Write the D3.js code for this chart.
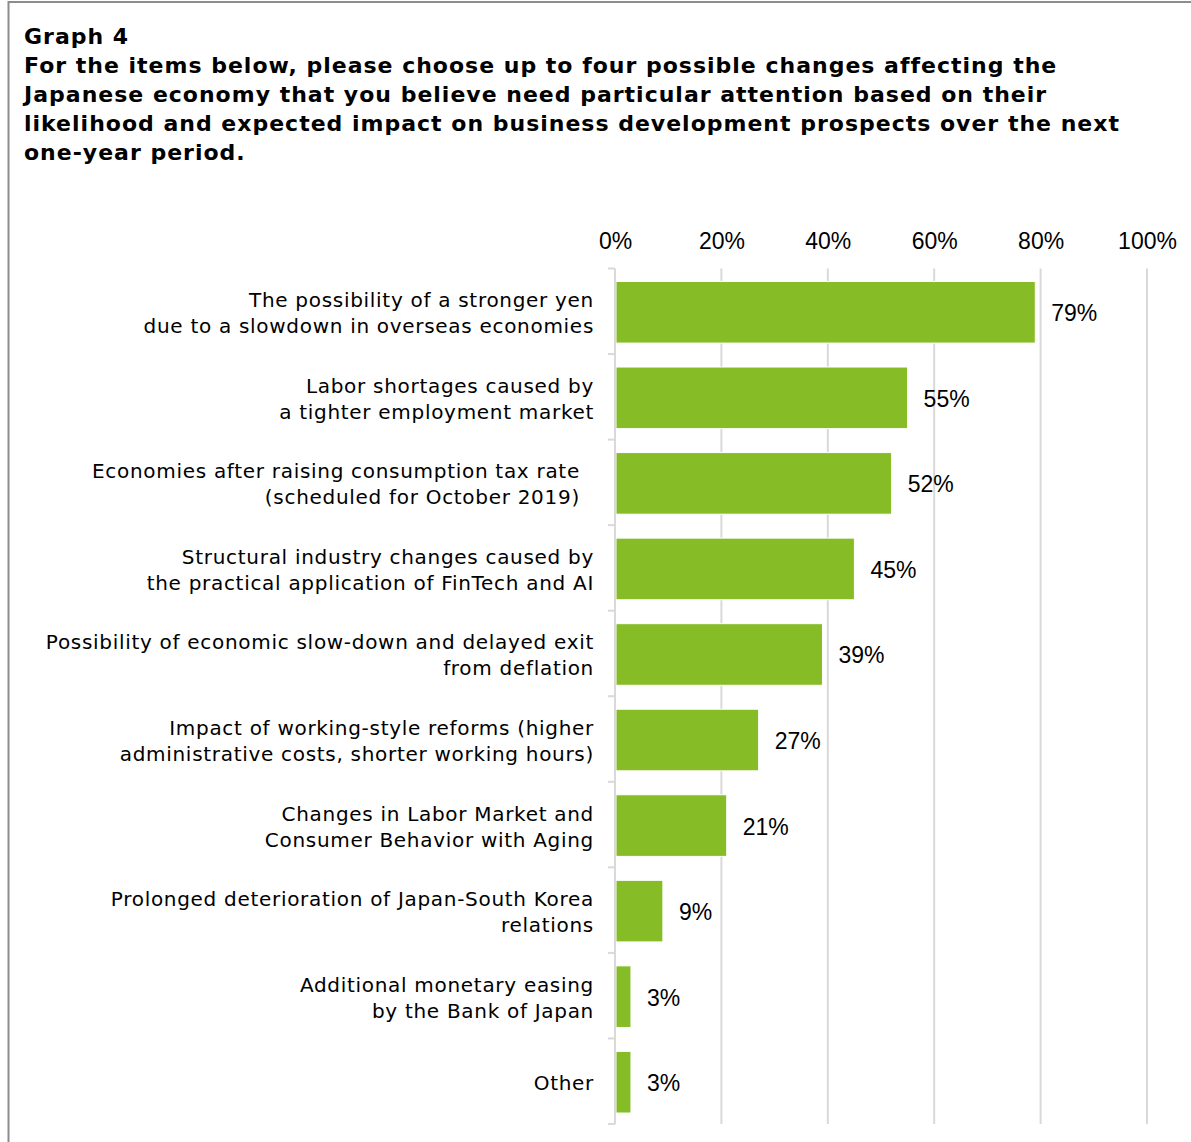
<!DOCTYPE html>
<html>
<head>
<meta charset="utf-8">
<script src="https://cdn.jsdelivr.net/npm/d3@7/dist/d3.min.js"></script>
<style>
  html, body { margin: 0; padding: 0; background: #fff; }
  svg { display: block; }
</style>
</head>
<body>
<svg id="chart" width="1191" height="1142"></svg>
<script>
// Survey results: share of respondents naming each change
const titleLines = [
  "Graph 4",
  "For the items below, please choose up to four possible changes affecting the",
  "Japanese economy that you believe need particular attention based on their",
  "likelihood and expected impact on business development prospects over the next",
  "one-year period."
];

const categories = [
  ["The possibility of a stronger yen", "due to a slowdown in overseas economies"],
  ["Labor shortages caused by", "a tighter employment market"],
  ["Economies after raising consumption tax rate\u00a0\u00a0", "(scheduled for October 2019)\u00a0\u00a0"],
  ["Structural industry changes caused by", "the practical application of FinTech and AI"],
  ["Possibility of economic slow-down and delayed exit", "from deflation"],
  ["Impact of working-style reforms (higher", "administrative costs, shorter working hours)"],
  ["Changes in Labor Market and", "Consumer Behavior with Aging"],
  ["Prolonged deterioration of Japan-South Korea", "relations"],
  ["Additional monetary easing", "by the Bank of Japan"],
  ["Other"]
];

const values = [79, 55, 52, 45, 39, 27, 21, 9, 3, 3];

const tickValues = [0, 20, 40, 60, 80, 100];
const tickLabels = ["0%", "20%", "40%", "60%", "80%", "100%"];

const svg = d3.select("#chart");

// outer frame
svg.append("rect")
  .attr("x", 8.5).attr("y", 2)
  .attr("width", 1400).attr("height", 1400)
  .attr("fill", "none")
  .attr("stroke", "#8c8c8c")
  .attr("stroke-width", 2);

// title
const title = svg.append("text")
  .attr("x", 24)
  .attr("font-family", "'DejaVu Sans', Verdana, sans-serif")
  .attr("font-weight", "bold")
  .attr("font-size", 22)
  .attr("letter-spacing", 1)
  .attr("fill", "#000");
title.selectAll("tspan")
  .data(titleLines)
  .join("tspan")
  .attr("x", 24)
  .attr("y", (d, i) => 44 + i * 29)
  .text(d => d);

const x = d3.scaleLinear().domain([0, 100]).range([615, 1147]);
const y = d3.scaleBand()
  .domain(d3.range(categories.length))
  .range([268.5, 1124])
  .paddingInner(0.28)
  .paddingOuter(0.14);

const step = y.step();
const bandTop = i => 268.5 + i * step;

// vertical gridlines
svg.append("g")
  .selectAll("line")
  .data(tickValues.slice(1))
  .join("line")
  .attr("x1", d => x(d)).attr("x2", d => x(d))
  .attr("y1", 268.5).attr("y2", 1124)
  .attr("stroke", "#d9d9d9")
  .attr("stroke-width", 2);

// top axis labels
const xAxis = d3.axisTop(x)
  .tickValues(tickValues)
  .tickFormat((d, i) => tickLabels[i])
  .tickSize(0)
  .tickPadding(0);
const gx = svg.append("g")
  .attr("transform", "translate(0,249)")
  .call(xAxis);
gx.select(".domain").remove();
gx.selectAll("text")
  .attr("font-family", "'Liberation Sans', Arial, sans-serif")
  .attr("font-size", 23)
  .attr("fill", "#000");

// bars
svg.append("g")
  .selectAll("rect")
  .data(values)
  .join("rect")
  .attr("x", x(0) + 1)
  .attr("y", (d, i) => y(i) + 1)
  .attr("width", d => x(d) - x(0) - 1)
  .attr("height", y.bandwidth())
  .attr("fill", "#86bc25")
  .attr("stroke", "#fff")
  .attr("stroke-width", 1);

// value labels
svg.append("g")
  .selectAll("text")
  .data(values)
  .join("text")
  .attr("x", d => x(d) + 16)
  .attr("y", (d, i) => y(i) + y.bandwidth() / 2 + 10)
  .attr("font-family", "'Liberation Sans', Arial, sans-serif")
  .attr("font-size", 23)
  .attr("fill", "#000")
  .text(d => d + "%");

// category axis line and boundary ticks
const axisG = svg.append("g").attr("stroke", "#d9d9d9").attr("stroke-width", 2);
axisG.append("line")
  .attr("x1", 615).attr("x2", 615)
  .attr("y1", 268.5).attr("y2", 1124);
axisG.selectAll("line.tick")
  .data(d3.range(categories.length + 1))
  .join("line")
  .attr("class", "tick")
  .attr("x1", 608).attr("x2", 615)
  .attr("y1", i => bandTop(i)).attr("y2", i => bandTop(i));

// category labels
const labels = svg.append("g")
  .selectAll("text")
  .data(categories)
  .join("text")
  .attr("text-anchor", "end")
  .attr("font-family", "'DejaVu Sans', Verdana, sans-serif")
  .attr("font-size", 20)
  .attr("letter-spacing", 0.7)
  .attr("fill", "#000");
labels.each(function(lines, i) {
  const cy = bandTop(i) + step / 2 + 9;
  const lh = 26;
  const y0 = cy - (lines.length - 1) * lh / 2;
  d3.select(this).selectAll("tspan")
    .data(lines)
    .join("tspan")
    .attr("x", 594)
    .attr("y", (d, j) => y0 + j * lh)
    .text(d => d);
});
</script>
</body>
</html>
